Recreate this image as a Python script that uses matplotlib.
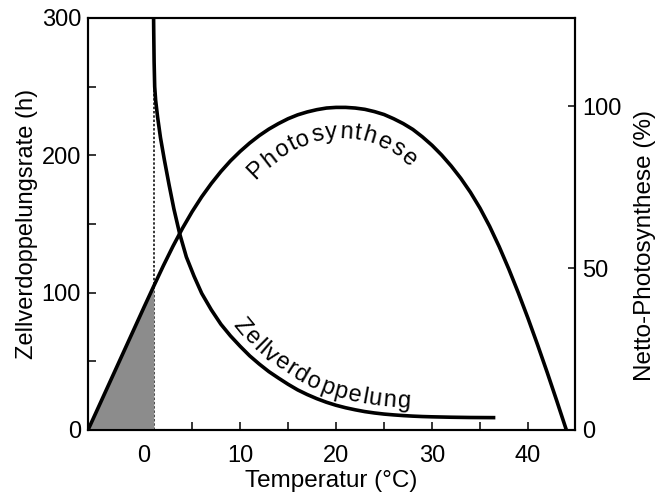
import matplotlib
matplotlib.use('Agg')
import matplotlib.pyplot as plt
import numpy as np
from matplotlib.font_manager import FontProperties

# Netto-Photosynthese (%) vs Temperatur (°C)
photo_t = [-5.85, -5, -4, -3, -2, -1, 0, 1, 2, 3, 4, 5, 6, 7, 8, 9, 10, 11, 12, 13, 14,
           15, 16, 17, 18, 19, 20, 21, 22, 23, 24, 25, 26, 27, 28, 29, 30, 31, 32, 33,
           34, 35, 36, 37, 38, 39, 40, 41, 42, 43, 44]
photo_v = [0.0, 5.5, 12.0, 18.5, 25.0, 31.5, 38.0, 44.4, 50.7, 56.7, 62.3, 67.4, 72.0,
           76.1, 79.8, 83.1, 86.0, 88.6, 90.9, 92.9, 94.6, 96.1, 97.3, 98.2, 98.9, 99.4,
           99.6, 99.6, 99.4, 99.0, 98.3, 97.4, 96.1, 94.6, 92.8, 90.5, 87.9, 84.9, 81.5,
           77.7, 73.4, 68.5, 62.9, 56.6, 49.7, 42.3, 34.5, 26.3, 17.8, 9.0, 0.0]

# Zellverdoppelungsrate (h) vs Temperatur (°C)
zell_t = [0.97, 1.0, 1.04, 1.1, 1.2, 1.4, 1.7, 2.1, 2.6, 3.1, 3.7, 4.4, 5.2, 6, 7, 8,
          9, 10, 11, 12, 13, 14, 15, 16, 17, 18, 19, 20, 21, 22, 23, 24, 25, 26, 27,
          28, 29, 30, 32, 34, 36.6]
zell_v = [310, 290, 268, 250, 240, 228, 213, 197, 178.5, 161, 143, 126, 112, 99.5,
          87.5, 77, 68.5, 61, 54, 48, 42.5, 37.8, 33.3, 29.2, 25.8, 22.8, 20.2, 18.0,
          16.2, 14.7, 13.4, 12.4, 11.6, 11.0, 10.5, 10.1, 9.8, 9.6, 9.3, 9.1, 9.0]

grenz_t = 1.0   # gestrichelte Linie

FONT = 'Liberation Sans'
plt.rcParams['font.family'] = FONT


def curved_text(fig, ax, xs, ys, text, x_first, x_last, offset, size):
    # characters placed along the curve, offset (px) along the left normal
    pts = ax.transData.transform(np.column_stack([xs, ys]))
    d = np.gradient(pts, axis=0)
    d /= np.hypot(d[:, 0], d[:, 1])[:, None]
    normal = np.column_stack([-d[:, 1], d[:, 0]])
    path = pts + offset * normal
    seg = np.hypot(*np.diff(path, axis=0).T)
    cum = np.concatenate([[0], np.cumsum(seg)])
    s_a = np.interp(x_first, xs, cum)
    s_b = np.interp(x_last, xs, cum)
    fp = FontProperties(family=FONT, size=size)
    rend = fig.canvas.get_renderer()
    widths = np.array([rend.get_text_width_height_descent(c, fp, ismath=False)[0]
                       for c in text])
    centers = np.cumsum(widths) - widths / 2
    centers = (centers - centers[0]) / (centers[-1] - centers[0])
    inv = fig.transFigure.inverted()
    for c, f in zip(text, centers):
        s = s_a + f * (s_b - s_a)
        px = np.interp(s, cum, path[:, 0])
        py = np.interp(s, cum, path[:, 1])
        i = min(max(np.searchsorted(cum, s), 1), len(cum) - 1)
        ang = np.degrees(np.arctan2(path[i, 1] - path[i - 1, 1], path[i, 0] - path[i - 1, 0]))
        fx, fy = inv.transform((px, py))
        fig.text(fx, fy, c, fontproperties=fp, rotation=ang, rotation_mode='anchor',
                 ha='center', va='baseline')


fig = plt.figure(figsize=(6.56, 4.93), dpi=100)
rect = [88 / 656, 63 / 493, 487 / 656, 412 / 493]
ax = fig.add_axes(rect)
ax2 = ax.twinx()
ax.set_position(rect)
ax2.set_position(rect)

ax.set_xlim(-5.85, 44.9)
ax.set_ylim(0, 300)
ax2.set_ylim(0, 127.2)

pt = np.array(photo_t)
pv = np.array(photo_v)
m = pt <= grenz_t
ax2.fill_between(pt[m], 0, pv[m], color='#8c8c8c', lw=0)
ax2.plot(pt, pv, color='black', lw=2.6, solid_capstyle='butt', solid_joinstyle='round')

ax.plot(zell_t, zell_v, color='black', lw=2.6, solid_capstyle='butt', solid_joinstyle='round')
ax.plot([grenz_t, grenz_t], [0, np.interp(1.1, zell_t, zell_v)],
        color='black', lw=1.1, linestyle=(0, (1.6, 1.2)))

for a in (ax, ax2):
    for sp in a.spines.values():
        sp.set_linewidth(1.5)

ax.set_xticks([0, 10, 20, 30, 40])
ax.set_xticks([-5, 5, 15, 25, 35], minor=True)
ax.set_yticks([0, 100, 200, 300])
ax.set_yticks([50, 150, 250], minor=True)
ax2.set_yticks([0, 50, 100])
ax.tick_params(which='both', direction='in', length=6, width=1.1, labelsize=17)
ax.tick_params(axis='x', which='major', pad=10.5)
ax.tick_params(axis='y', which='major', pad=5)
ax2.tick_params(which='both', direction='in', length=5, width=1.1, labelsize=17, pad=5)

ax.set_xlabel('Temperatur (°C)', fontsize=17.5, labelpad=2.5)
ax.set_ylabel('Zellverdoppelungsrate (h)', fontsize=17, labelpad=3)
ax2.set_ylabel('Netto-Photosynthese (%)', fontsize=17.5)
ax2.yaxis.set_label_coords(1.122, 0.449)

fig.canvas.draw()
curved_text(fig, ax2, photo_t, photo_v, 'Photosynthese', 10.0, 29.3, -31, 17)
curved_text(fig, ax, zell_t, zell_v, 'Zellverdoppelung', 9.0, 27.0, 8, 17)

fig.savefig('out.png', dpi=100)
